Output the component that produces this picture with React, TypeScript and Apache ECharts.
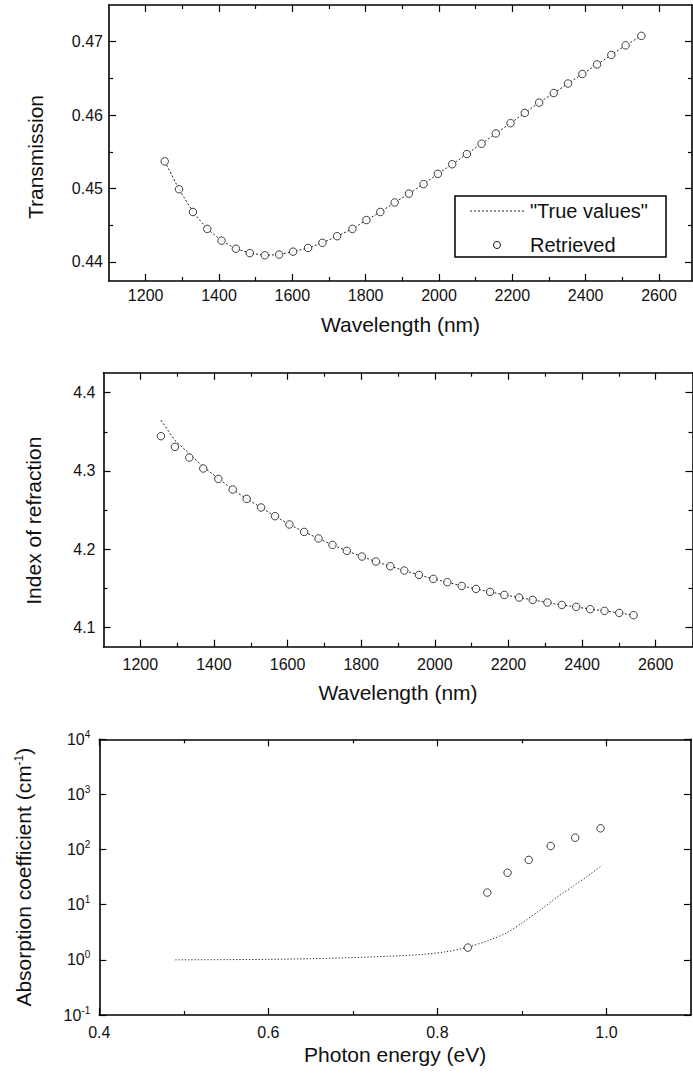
import React, { useEffect, useRef } from "react";
import * as echarts from "echarts";

// ---------- Data ----------
const wavelengthT = [1252, 1291, 1329, 1368, 1407, 1446, 1484, 1525, 1564, 1602, 1643, 1682, 1722, 1764, 1802, 1840, 1879, 1918, 1958, 1997, 2036, 2076, 2116, 2155, 2195, 2234, 2273, 2313, 2352, 2391, 2431, 2470, 2509, 2552];
const transmissionTrue = [0.4537, 0.4499, 0.4468, 0.4445, 0.4429, 0.4418, 0.4412, 0.4409, 0.441, 0.4414, 0.4419, 0.4426, 0.4435, 0.4445, 0.4457, 0.4468, 0.4481, 0.4493, 0.4506, 0.452, 0.4533, 0.4547, 0.4561, 0.4575, 0.4589, 0.4603, 0.4617, 0.463, 0.4643, 0.4656, 0.4669, 0.4682, 0.4695, 0.4708];
const transmissionRetrieved = [0.4537, 0.4499, 0.4468, 0.4445, 0.4429, 0.4418, 0.4412, 0.4409, 0.441, 0.4414, 0.4419, 0.4426, 0.4435, 0.4445, 0.4457, 0.4468, 0.4481, 0.4493, 0.4506, 0.452, 0.4533, 0.4547, 0.4561, 0.4575, 0.4589, 0.4603, 0.4617, 0.463, 0.4643, 0.4656, 0.4669, 0.4682, 0.4695, 0.4708];

const wavelengthN = [1256, 1294, 1333, 1371, 1412, 1451, 1489, 1528, 1566, 1605, 1645, 1684, 1722, 1761, 1802, 1840, 1879, 1917, 1957, 1996, 2034, 2073, 2112, 2150, 2189, 2229, 2266, 2306, 2345, 2384, 2422, 2461, 2501, 2540];
const indexTrue = [4.3648, 4.339, 4.322, 4.305, 4.2905, 4.2762, 4.2642, 4.2532, 4.2421, 4.2315, 4.222, 4.2136, 4.2054, 4.1978, 4.1905, 4.1841, 4.1781, 4.1726, 4.167, 4.1619, 4.1577, 4.1529, 4.1491, 4.1453, 4.1414, 4.1381, 4.135, 4.1317, 4.1286, 4.1261, 4.1232, 4.121, 4.1184, 4.1155];
const indexRetrieved = [4.3444, 4.3307, 4.3171, 4.3031, 4.2898, 4.2762, 4.2642, 4.2532, 4.2421, 4.2315, 4.222, 4.2136, 4.2054, 4.1978, 4.1905, 4.1841, 4.1781, 4.1726, 4.167, 4.1619, 4.1577, 4.1529, 4.1491, 4.1453, 4.1414, 4.1381, 4.135, 4.1317, 4.1286, 4.1261, 4.1232, 4.121, 4.1184, 4.1155];

const energyTrue = [0.49, 0.55, 0.6, 0.65, 0.7, 0.74, 0.78, 0.81, 0.835, 0.862, 0.882, 0.902, 0.922, 0.941, 0.961, 0.981, 0.995];
const alphaTrue = [1.0, 1.01, 1.02, 1.05, 1.1, 1.16, 1.25, 1.4, 1.68, 2.3, 3.1, 4.9, 8.1, 13.5, 22, 36, 52];
const energyRetrieved = [0.836, 0.859, 0.883, 0.908, 0.934, 0.963, 0.993];
const alphaRetrieved = [1.67, 16.6, 38, 65, 116, 164, 243];

const wavelengthTicks = [1200, 1400, 1600, 1800, 2000, 2200, 2400, 2600];
const wavelengthMinorTicks = [1300, 1500, 1700, 1900, 2100, 2300, 2500];
const transmissionTicks = [0.44, 0.45, 0.46, 0.47];
const transmissionMinorTicks = [0.445, 0.455, 0.465];
const indexTicks = [4.1, 4.2, 4.3, 4.4];
const indexMinorTicks = [4.15, 4.25, 4.35];
const energyTicks = [0.4, 0.6, 0.8, 1.0];
const energyMinorTicks = [0.5, 0.7, 0.9];

// ---------- Styling helpers ----------
const FONT = '"Liberation Sans", Arial, Helvetica, sans-serif';
const INK = "#000";

type AxisCfg = {
  grid: number;
  min: number;
  max: number;
  majors?: number[];
  minors?: number[];
  fmt?: (v: number) => string;
  name: string;
  nameGap: number;
  labelMargin: number;
  log?: boolean;
  rich?: any;
  namePadding?: number[];
};

function buildAxes(dim: "x" | "y", c: AxisCfg) {
  const main = dim === "x" ? "bottom" : "left";
  const mirror = dim === "x" ? "top" : "right";
  const type = c.log ? "log" : "value";
  const base: any = {
    type,
    gridIndex: c.grid,
    min: c.min,
    max: c.max,
    splitLine: { show: false },
    axisPointer: { show: false },
    silent: true,
  };
  if (c.log) base.logBase = 10;
  const tickMajor = {
    show: true,
    inside: true,
    length: 7,
    lineStyle: { color: INK, width: 1.2 },
    ...(c.majors ? { customValues: c.majors } : {}),
  };
  const tickMinor = {
    show: !!(c.minors && c.minors.length),
    inside: true,
    length: 4,
    lineStyle: { color: INK, width: 1.2 },
    ...(c.minors ? { customValues: c.minors } : {}),
  };
  const line = { show: true, onZero: false, lineStyle: { color: INK, width: 1.6 } };
  const noLine = { show: false, onZero: false };
  return [
    {
      ...base,
      position: main,
      axisLine: line,
      axisTick: tickMajor,
      axisLabel: {
        show: true,
        ...(c.majors ? { customValues: c.majors } : {}),
        formatter: c.fmt,
        margin: c.labelMargin,
        fontSize: 16,
        color: "#111",
        fontFamily: FONT,
        ...(c.rich ? { rich: c.rich } : {}),
      },
      name: c.name,
      nameLocation: "middle",
      nameGap: c.nameGap,
      nameRotate: dim === "y" ? 90 : 0,
      nameTextStyle: {
        fontSize: 21,
        color: "#111",
        fontFamily: FONT,
        ...(c.namePadding ? { padding: c.namePadding } : {}),
        rich: {
          s: { fontSize: 12, lineHeight: 12, verticalAlign: "top", fontFamily: FONT, color: "#111" },
        },
      },
    },
    { ...base, position: main, axisLine: noLine, axisTick: tickMinor, axisLabel: { show: false } },
    { ...base, position: mirror, axisLine: line, axisTick: tickMajor, axisLabel: { show: false } },
    { ...base, position: mirror, axisLine: noLine, axisTick: tickMinor, axisLabel: { show: false } },
  ];
}

const pairs = (xs: number[], ys: number[]) => xs.map((x, i) => [x, ys[i]]);

export default function App() {
  const ref = useRef<HTMLDivElement>(null);

  useEffect(() => {
    if (!ref.current) return;
    const chart = echarts.init(ref.current, undefined, { renderer: "svg" });

    const grids = [
      { left: 109, top: 5, width: 583, height: 276 },
      { left: 103.5, top: 372.7, width: 589, height: 274 },
      { left: 99.3, top: 739.3, width: 591.7, height: 275.7 },
    ];

    const xAxis = [
      ...buildAxes("x", {
        grid: 0, min: 1100, max: 2690, majors: wavelengthTicks, minors: wavelengthMinorTicks,
        fmt: (v) => String(Math.round(v)), name: "Wavelength (nm)", nameGap: 33, labelMargin: 6,
      }),
      ...buildAxes("x", {
        grid: 1, min: 1100, max: 2700, majors: wavelengthTicks, minors: wavelengthMinorTicks,
        fmt: (v) => String(Math.round(v)), name: "Wavelength (nm)", nameGap: 35, labelMargin: 10,
      }),
      ...buildAxes("x", {
        grid: 2, min: 0.4, max: 1.1, majors: energyTicks, minors: energyMinorTicks,
        fmt: (v) => v.toFixed(1), name: "Photon energy (eV)", nameGap: 29, labelMargin: 9,
      }),
    ];

    const yAxis = [
      ...buildAxes("y", {
        grid: 0, min: 0.4374, max: 0.475, majors: transmissionTicks, minors: transmissionMinorTicks,
        fmt: (v) => v.toFixed(2), name: "Transmission", nameGap: 63, labelMargin: 6,
        namePadding: [0, 28, 0, 0],
      }),
      ...buildAxes("y", {
        grid: 1, min: 4.0752, max: 4.4256, majors: indexTicks, minors: indexMinorTicks,
        fmt: (v) => v.toFixed(1), name: "Index of refraction", nameGap: 60, labelMargin: 8,
        namePadding: [0, 22, 0, 0],
      }),
      ...buildAxes("y", {
        grid: 2, min: 0.1, max: 10000, log: true,
        fmt: (v) => `{b|10}{s|${Math.round(Math.log10(v))}}`,
        rich: {
          b: { fontSize: 16, lineHeight: 20, color: "#111", fontFamily: FONT },
          s: { fontSize: 10, lineHeight: 10, verticalAlign: "top", color: "#111", fontFamily: FONT },
        },
        name: "Absorption coefficient (cm{s|-1})", nameGap: 65, labelMargin: 9,
      }),
    ];

    const dashed = { type: [2, 2], width: 1, color: "#222" };
    const circle = {
      type: "scatter",
      symbol: "circle",
      symbolSize: 7.5,
      itemStyle: { color: "#fff", borderColor: "#111", borderWidth: 1 },
      z: 3,
      silent: true,
    };

    const series: any[] = [
      { type: "line", name: "True values", xAxisIndex: 0, yAxisIndex: 0, data: pairs(wavelengthT, transmissionTrue), symbol: "none", showSymbol: false, lineStyle: dashed, z: 2, silent: true },
      { ...circle, name: "Retrieved", xAxisIndex: 0, yAxisIndex: 0, data: pairs(wavelengthT, transmissionRetrieved) },
      { type: "line", name: "True values n", xAxisIndex: 4, yAxisIndex: 4, data: pairs(wavelengthN, indexTrue), symbol: "none", showSymbol: false, lineStyle: dashed, z: 2, silent: true },
      { ...circle, name: "Retrieved n", xAxisIndex: 4, yAxisIndex: 4, data: pairs(wavelengthN, indexRetrieved) },
      { type: "line", name: "True values a", xAxisIndex: 8, yAxisIndex: 8, data: pairs(energyTrue, alphaTrue), symbol: "none", showSymbol: false, smooth: 0.3, lineStyle: { ...dashed, type: [1.2, 2] }, z: 2, silent: true },
      { ...circle, name: "Retrieved a", xAxisIndex: 8, yAxisIndex: 8, data: pairs(energyRetrieved, alphaRetrieved) },
    ];

    const graphic = [
      {
        type: "group",
        children: [
          { type: "rect", shape: { x: 455, y: 196, width: 211, height: 61 }, style: { fill: "#fff", stroke: INK, lineWidth: 1.5 }, z: 10 },
          { type: "line", shape: { x1: 470, y1: 211, x2: 526, y2: 211 }, style: { stroke: "#222", lineWidth: 1, lineDash: [2, 2] }, z: 11 },
          { type: "circle", shape: { cx: 497, cy: 245, r: 3.5 }, style: { fill: "#fff", stroke: "#111", lineWidth: 1 }, z: 11 },
          { type: "text", x: 530, y: 211, style: { text: '"True values"', fontSize: 20, fontFamily: FONT, fill: "#111", verticalAlign: "middle", align: "left" }, z: 11 },
          { type: "text", x: 530, y: 245, style: { text: "Retrieved", fontSize: 20, fontFamily: FONT, fill: "#111", verticalAlign: "middle", align: "left" }, z: 11 },
        ],
      },
    ];

    chart.setOption({
      animation: false,
      backgroundColor: "#fff",
      grid: grids,
      xAxis,
      yAxis,
      series,
      graphic,
    });

    return () => chart.dispose();
  }, []);

  return (
    <div
      ref={ref}
      style={{ position: "absolute", left: 0, top: 0, width: 693, height: 1076, background: "#fff" }}
    />
  );
}
